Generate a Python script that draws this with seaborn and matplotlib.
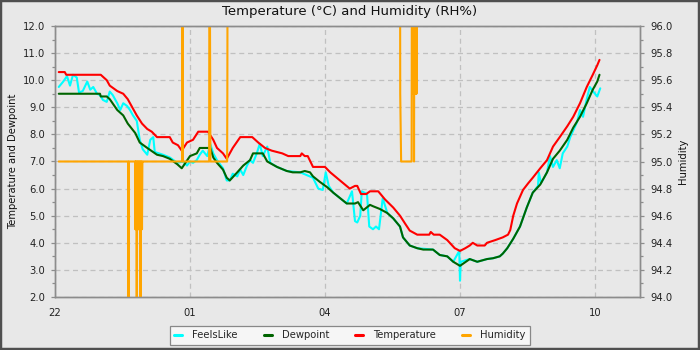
import pandas as pd
import matplotlib
matplotlib.use("Agg")
import matplotlib.pyplot as plt
import matplotlib.dates as mdates
from matplotlib.patches import Rectangle
from matplotlib.ticker import MultipleLocator, FormatStrFormatter
import seaborn as sns

# Overnight readings, times in minutes after 22:00
START = pd.Timestamp("2024-01-14 22:00")

temp_min = [5, 13, 15, 61, 65, 69, 73, 83, 91, 97, 103, 109, 116, 123, 129, 136,
            153, 157, 164, 169, 176, 184, 191, 204, 211, 216, 224, 229, 237, 247,
            263, 271, 280, 289, 303, 311, 327, 329, 333, 337, 344, 360, 367, 380,
            393, 400, 403, 408, 415, 420, 431, 440, 451, 460, 467, 473, 483, 499,
            501, 505, 513, 523, 533, 540, 547, 553, 557, 563, 573, 576, 587, 597,
            604, 607, 611, 616, 624, 631, 637, 647, 656, 664, 673, 683, 691, 700,
            709, 717, 723, 726]
temp_val = [10.3, 10.3, 10.2, 10.2, 10.1, 10.0, 9.8, 9.6, 9.5, 9.3, 9.0, 8.7, 8.4,
            8.2, 8.1, 7.9, 7.9, 7.7, 7.6, 7.4, 7.7, 7.8, 8.1, 8.1, 7.8, 7.5, 7.3,
            7.1, 7.5, 7.9, 7.9, 7.7, 7.5, 7.4, 7.3, 7.2, 7.2, 7.3, 7.2, 7.2, 6.8,
            6.8, 6.6, 6.3, 6.0, 6.1, 6.1, 5.8, 5.8, 5.9, 5.9, 5.6, 5.3, 5.0, 4.7,
            4.45, 4.3, 4.3, 4.4, 4.3, 4.3, 4.1, 3.8, 3.7, 3.8, 3.9, 4.0, 3.9, 3.9,
            4.0, 4.1, 4.2, 4.3, 4.47, 5.0, 5.45, 5.95, 6.2, 6.4, 6.75, 7.05, 7.55,
            7.9, 8.3, 8.65, 9.15, 9.75, 10.2, 10.55, 10.75]

dew_min = [5, 60, 61, 69, 73, 83, 91, 97, 107, 113, 123, 136, 144, 153, 163, 169,
           180, 189, 193, 207, 211, 216, 224, 229, 233, 243, 251, 260, 264, 277,
           283, 296, 309, 317, 327, 333, 340, 344, 353, 363, 371, 380, 389, 400,
           404, 411, 420, 424, 433, 443, 451, 460, 464, 473, 483, 491, 504, 513,
           523, 531, 540, 553, 563, 576, 584, 593, 597, 603, 611, 620, 629, 637,
           647, 656, 664, 673, 683, 691, 700, 709, 717, 723, 726]
dew_val = [9.5, 9.5, 9.4, 9.4, 9.3, 8.9, 8.7, 8.4, 8.05, 7.7, 7.5, 7.25, 7.2, 7.1,
           6.9, 6.75, 7.2, 7.3, 7.5, 7.5, 7.15, 6.95, 6.7, 6.4, 6.3, 6.6, 6.85,
           7.05, 7.3, 7.3, 7.0, 6.8, 6.65, 6.6, 6.6, 6.65, 6.6, 6.45, 6.25, 6.05,
           5.85, 5.65, 5.45, 5.45, 5.5, 5.2, 5.4, 5.35, 5.25, 5.1, 4.9, 4.6, 4.2,
           3.9, 3.8, 3.75, 3.75, 3.55, 3.5, 3.3, 3.15, 3.4, 3.3, 3.4, 3.43, 3.5,
           3.6, 3.8, 4.15, 4.6, 5.3, 5.85, 6.15, 6.6, 7.1, 7.4, 7.8, 8.25, 8.65,
           9.15, 9.65, 9.95, 10.2]

feels_min = [5, 11, 16, 20, 24, 29, 32, 37, 43, 47, 51, 56, 60, 64, 69, 73, 77, 83,
             87, 91, 96, 100, 104, 109, 113, 117, 123, 127, 131, 133, 144, 153,
             163, 171, 176, 180, 184, 189, 193, 197, 203, 207, 211, 216, 224, 229,
             233, 237, 243, 247, 251, 256, 260, 264, 269, 273, 277, 283, 287, 296,
             309, 327, 344, 351, 357, 361, 365, 371, 380, 389, 396, 400, 403, 407,
             409, 416, 419, 424, 428, 432, 437, 443, 451, 460, 464, 473, 483, 504,
             513, 523, 531, 539, 540, 541, 553, 563, 576, 584, 593, 597, 603, 611,
             620, 629, 637, 644, 645, 648, 656, 660, 664, 669, 673, 677, 683, 687,
             691, 696, 700, 704, 709, 713, 717, 723, 727]
feels_val = [9.75, 9.95, 10.15, 9.8, 10.2, 10.1, 9.55, 9.6, 9.95, 9.65, 9.75, 9.5,
             9.45, 9.27, 9.2, 9.58, 9.45, 9.15, 8.9, 9.15, 9.05, 8.9, 8.7, 8.5, 7.8,
             7.45, 7.25, 7.8, 7.9, 7.35, 7.25, 7.15, 6.95, 7.0, 6.85, 7.0, 6.95,
             7.05, 7.25, 7.4, 7.2, 7.65, 7.3, 7.05, 6.75, 6.3, 6.3, 6.55, 6.45, 6.7,
             6.5, 6.85, 7.05, 6.95, 7.3, 7.65, 7.2, 7.55, 6.95, 6.8, 6.65, 6.6, 6.4,
             6.0, 5.95, 6.6, 6.1, 5.85, 5.65, 5.45, 5.9, 4.8, 4.75, 5.0, 5.9, 5.8,
             4.6, 4.5, 4.6, 4.5, 5.65, 5.1, 4.9, 4.6, 4.2, 3.9, 3.8, 3.75, 3.55, 3.5,
             3.3, 3.7, 2.6, 3.3, 3.4, 3.3, 3.4, 3.43, 3.5, 3.6, 3.8, 4.15, 4.6, 5.3,
             5.85, 6.1, 6.6, 6.2, 6.6, 7.2, 6.8, 7.05, 6.75, 7.3, 7.55, 7.9, 8.15,
             8.45, 8.9, 8.65, 9.3, 9.75, 9.6, 9.4, 9.7]

hum_min = [5, 97.5, 98, 98.5,
           106.9, 107, 107.5, 108, 108.5, 109, 109.5, 110, 110.5, 111, 111.5, 112,
           112.5, 113, 113.5, 114, 114.5, 115, 115.5, 116, 116.5, 117,
           169.5, 170, 170.5, 205.5, 206, 207, 207.2, 229.5, 229.8, 230.2,
           460, 460.3, 461.5, 475.5, 475.6, 476, 476.5, 477, 477.5, 478, 478.7,
           479.4, 480, 480.5, 481, 481.5, 482, 482.5, 483, 727]
hum_val = [95, 95, 93, 95,
           95, 94.5, 95, 94.5, 95, 93, 95, 94.5, 95, 94.5, 95, 94.5,
           95, 94.5, 95, 93, 95, 94.5, 95, 94.5, 95, 95,
           95, 97, 95, 95, 97, 95.5, 95, 95, 95.5, 97,
           97, 95.5, 95, 95, 95.5, 97, 95.5, 97, 95.5, 97, 95,
           97, 95.5, 97, 95.5, 97, 95.5, 97, 97, 97]

x_tick_hours = [22, 1, 4, 7, 10]


def frame(minutes, values):
    return pd.DataFrame({"time": START + pd.to_timedelta(minutes, unit="min"),
                         "value": values})


sns.set_theme(style="white")
plt.rcParams["font.family"] = ["DejaVu Sans"]
BG = "#e8e8e8"
GRID = "#c0c0c0"
AXC = "#8c8c8c"

fig = plt.figure(figsize=(7, 3.5), dpi=100, facecolor=BG)
ax = fig.add_axes([55 / 700, 1 - 297 / 350, 585 / 700, 271 / 350])
ax.set_facecolor(BG)

lw = 1.5
series = [("FeelsLike", feels_min, feels_val, "#00ffff"),
          ("Dewpoint", dew_min, dew_val, "#006400"),
          ("Temperature", temp_min, temp_val, "#ff0000")]
for name, mins, vals, col in series:
    sns.lineplot(data=frame(mins, vals), x="time", y="value", ax=ax, color=col,
                 linewidth=lw, estimator=None, sort=False, label=name, legend=False)

ax2 = ax.twinx()
sns.lineplot(data=frame(hum_min, hum_val), x="time", y="value", ax=ax2,
             color="#ffa500", linewidth=lw, estimator=None, sort=False,
             label="Humidity", legend=False)

ax.set_ylim(2, 12)
ax2.set_ylim(94, 96)
ax.set_xlim(START, START + pd.Timedelta(hours=13))

ax.yaxis.set_major_locator(MultipleLocator(1.0))
ax.yaxis.set_minor_locator(MultipleLocator(0.5))
ax.yaxis.set_major_formatter(FormatStrFormatter("%.1f"))
ax2.yaxis.set_major_locator(MultipleLocator(0.2))
ax2.yaxis.set_minor_locator(MultipleLocator(0.1))
ax2.yaxis.set_major_formatter(FormatStrFormatter("%.1f"))
ax.xaxis.set_major_locator(mdates.HourLocator(byhour=x_tick_hours))
ax.xaxis.set_minor_locator(mdates.HourLocator())
ax.xaxis.set_major_formatter(mdates.DateFormatter("%H"))

ax.grid(True, which="major", color=GRID, linestyle=(0, (4, 3)), linewidth=0.9)
ax2.grid(False)

for a in (ax, ax2):
    for sp in a.spines.values():
        sp.set_color(AXC)
        sp.set_linewidth(1.0)
    a.tick_params(which="both", colors=AXC, labelcolor="#222222", labelsize=7.2,
                  direction="out", width=0.9)
    a.tick_params(which="major", length=3.2, pad=3)
    a.tick_params(which="minor", length=2.5)
ax.tick_params(axis="y", which="major", pad=4)
ax2.tick_params(axis="y", which="major", pad=4)
ax.tick_params(axis="x", which="major", pad=5)

ax.set_xlabel("")
ax.set_ylabel("Temperature and Dewpoint", fontsize=7.2, color="#111111", labelpad=3)
ax2.set_ylabel("Humidity", fontsize=7.2, color="#111111", labelpad=4)

fig.text(0.5, 1 - 12 / 350, "Temperature (°C) and Humidity (RH%)", ha="center",
         va="center", fontsize=9.5, color="#111111")

handles = ax.get_lines()[:3] + ax2.get_lines()[:1]
labels = ["FeelsLike", "Dewpoint", "Temperature", "Humidity"]
leg = fig.legend(handles, labels, loc="center", bbox_to_anchor=(0.5, 1 - 335 / 350),
                 ncol=4, fontsize=7.2, frameon=True, fancybox=False,
                 edgecolor="#888888", facecolor="#f6f6f6", framealpha=1,
                 handlelength=0.8, handletextpad=1.0, columnspacing=2.6,
                 borderpad=0.45)
leg.get_frame().set_linewidth(0.9)
for h in leg.legend_handles:
    h.set_linewidth(2.2)

fig.add_artist(Rectangle((0, 0), 1, 1, transform=fig.transFigure, fill=False,
                         edgecolor="#4f4f4f", linewidth=3.2, clip_on=False))

fig.savefig("out.png", dpi=100, facecolor=BG)
